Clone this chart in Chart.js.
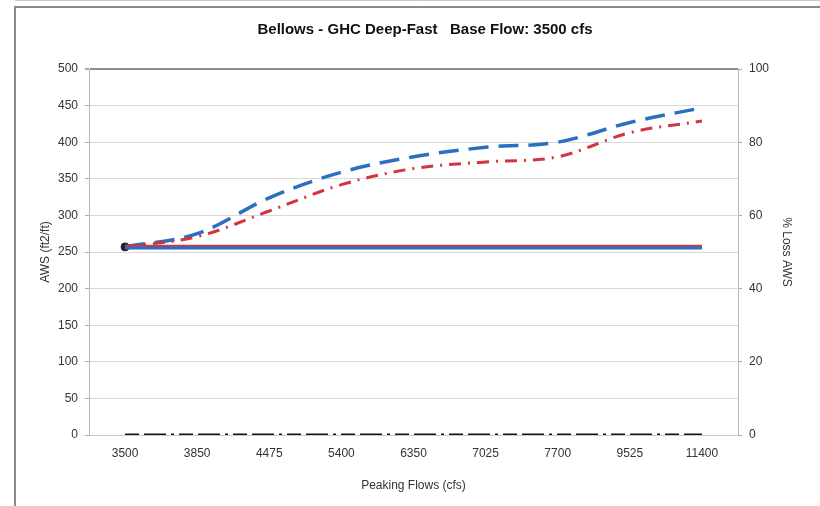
<!DOCTYPE html>
<html>
<head>
<meta charset="utf-8">
<script src="https://cdn.jsdelivr.net/npm/chart.js@4"></script>
<style>
  html, body { margin: 0; padding: 0; background: #fff; }
  #wrap { position: relative; width: 820px; height: 506px; }
</style>
</head>
<body>
<div id="wrap"><canvas id="flow-chart" width="820" height="506"></canvas></div>
<script>
  // peaking flows (cfs) along the bottom
  const flows = ['3500', '3850', '4475', '5400', '6350', '7025', '7700', '9525', '11400'];

  // AWS (ft2/ft)
  const awsBlueDash = [257, 275, 324, 359, 380, 393, 400, 427, 447];
  const awsRedDashDot = [257, 271, 306, 342, 364, 373, 380, 413, 429];
  const awsRedBase = [258, 258, 258, 258, 258, 258, 258, 258, 258];
  const awsBlueBase = [255.5, 255.5, 255.5, 255.5, 255.5, 255.5, 255.5, 255.5, 255.5];
  const baseFlowPoint = [257, null, null, null, null, null, null, null, null];

  // % loss AWS (right axis)
  const pctLoss = [0, 0, 0, 0, 0, 0, 0, 0, 0];

  const FONT = "'Liberation Sans', Arial, sans-serif";
  const BLUE = '#2a6fc2';
  const RED = '#d2353f';

  // the grey frame round the picture
  const framePlugin = {
    id: 'frame',
    beforeDraw(chart) {
      const ctx = chart.ctx;
      ctx.save();
      ctx.strokeStyle = '#c8c8c8';
      ctx.lineWidth = 1;
      ctx.beginPath();
      ctx.moveTo(15, 0.5);
      ctx.lineTo(820, 0.5);
      ctx.stroke();
      ctx.strokeStyle = '#8a8a8a';
      ctx.lineWidth = 2;
      ctx.beginPath();
      ctx.moveTo(15, 506);
      ctx.lineTo(15, 7);
      ctx.lineTo(820, 7);
      ctx.stroke();
      ctx.restore();
    }
  };

  const ctx = document.getElementById('flow-chart');

  new Chart(ctx, {
    type: 'line',
    data: {
      labels: flows,
      datasets: [
        {
          label: 'pct loss',
          data: pctLoss,
          yAxisID: 'y1',
          borderColor: '#111',
          borderWidth: 3,
          borderDash: [14, 5, 22, 5, 3, 5],
          pointRadius: 0,
          tension: 0
        },
        {
          label: 'blue base',
          data: awsBlueBase,
          yAxisID: 'y',
          borderColor: BLUE,
          borderWidth: 3,
          pointRadius: 0,
          tension: 0
        },
        {
          label: 'red base',
          data: awsRedBase,
          yAxisID: 'y',
          borderColor: RED,
          borderWidth: 3,
          pointRadius: 0,
          tension: 0
        },
        {
          label: 'red dash dot',
          data: awsRedDashDot,
          yAxisID: 'y',
          borderColor: RED,
          borderWidth: 3,
          borderDash: [12, 7, 2, 7],
          pointRadius: 0,
          tension: 0.35
        },
        {
          label: 'blue dash',
          data: awsBlueDash,
          yAxisID: 'y',
          borderColor: BLUE,
          borderWidth: 3.5,
          borderDash: [20, 10],
          pointRadius: 0,
          tension: 0.35
        },
        {
          label: 'base flow',
          data: baseFlowPoint,
          yAxisID: 'y',
          borderColor: '#222',
          backgroundColor: '#222',
          pointRadius: 4,
          showLine: false
        }
      ]
    },
    options: {
      responsive: false,
      animation: false,
      layout: { padding: { left: 30, right: 0, top: 0, bottom: 0 } },
      plugins: {
        legend: { display: false },
        tooltip: { enabled: false },
        title: {
          display: true,
          text: 'Bellows - GHC Deep-Fast   Base Flow: 3500 cfs',
          color: '#111',
          font: { family: FONT, size: 15, weight: 'bold' },
          padding: { top: 21, bottom: 30 }
        }
      },
      scales: {
        x: {
          offset: true,
          grid: { display: false, drawTicks: false, offset: true },
          border: { display: true, color: '#c8c8c8', width: 1 },
          ticks: { color: '#333', font: { family: FONT, size: 12 }, padding: 11, maxRotation: 0, autoSkip: false },
          title: {
            display: true,
            text: 'Peaking Flows (cfs)',
            color: '#333',
            font: { family: FONT, size: 12 },
            padding: { top: 0, bottom: 13 }
          },
          afterFit(scale) { scale.height = 71; }
        },
        y: {
          position: 'left',
          min: 0,
          max: 500,
          ticks: { stepSize: 50, color: '#333', font: { family: FONT, size: 12 }, padding: 7 },
          grid: {
            color: (c) => (c.tick && c.tick.value === 500 ? '#8c8c8c' : '#d9d9d9'),
            lineWidth: (c) => (c.tick && c.tick.value === 500 ? 2 : 1),
            tickColor: '#aaa',
            tickLength: 4
          },
          border: { display: true, color: '#b8b8b8', width: 1 },
          title: {
            display: true,
            text: 'AWS (ft2/ft)',
            color: '#333',
            font: { family: FONT, size: 12 },
            padding: { top: 8, bottom: 0 }
          },
          afterFit(scale) { scale.width = 59; }
        },
        y1: {
          position: 'right',
          min: 0,
          max: 100,
          ticks: { stepSize: 20, color: '#333', font: { family: FONT, size: 12 }, padding: 7 },
          grid: { drawOnChartArea: false, tickColor: '#aaa', tickLength: 4 },
          border: { display: true, color: '#b8b8b8', width: 1 },
          title: {
            display: true,
            text: '% Loss AWS',
            color: '#333',
            font: { family: FONT, size: 12 },
            padding: { top: 26, bottom: 0 }
          },
          afterFit(scale) { scale.width = 82; }
        }
      }
    },
    plugins: [framePlugin]
  });
</script>
</body>
</html>
